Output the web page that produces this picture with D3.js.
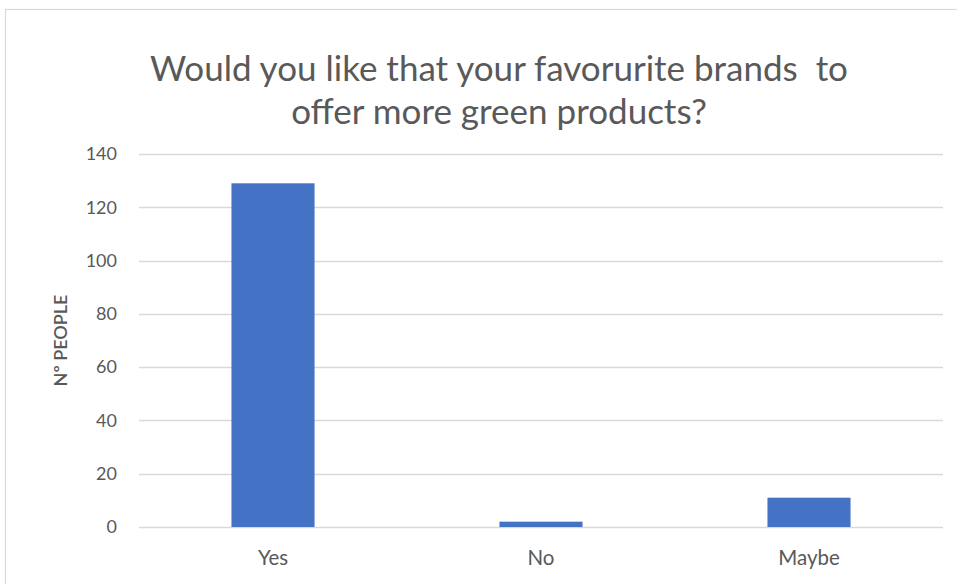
<!DOCTYPE html>
<html>
<head>
<meta charset="utf-8">
<script src="https://cdn.jsdelivr.net/npm/d3@7"></script>
<style>
  html, body { margin: 0; padding: 0; background: #fff; }
  svg { display: block; }
  text { font-family: Lato, "Open Sans", sans-serif; fill: #595959; }
</style>
</head>
<body>
<svg id="chart" width="957" height="584"></svg>
<script>
// Survey answers
const categories = ["Yes", "No", "Maybe"];
const counts = [129, 2, 11];
const yTicks = [0, 20, 40, 60, 80, 100, 120, 140];
const titleLines = ["Would you like that your favorurite brands  to", "offer more green products?"];
const yAxisTitle = "Nº PEOPLE";

const svg = d3.select("#chart");
const W = 957, H = 584;
const m = { left: 139, right: 14, top: 154, bottom: 57 };

// Chart area frame
svg.append("rect")
  .attr("x", 5.5).attr("y", 9.5)
  .attr("width", W + 10).attr("height", H + 10)
  .attr("fill", "#fff").attr("stroke", "#d9d9d9").attr("stroke-width", 1.2);

const x = d3.scaleBand().domain(categories).range([m.left, W - m.right]).paddingInner(0.69).paddingOuter(0.345);
const y = d3.scaleLinear().domain([0, 140]).range([H - m.bottom, m.top]);

// Gridlines
svg.append("g")
  .selectAll("line").data(yTicks).join("line")
  .attr("x1", m.left).attr("x2", W - m.right)
  .attr("y1", d => Math.round(y(d)) + 0.5).attr("y2", d => Math.round(y(d)) + 0.5)
  .attr("stroke", "#d9d9d9").attr("stroke-width", 1.5);

// Y axis labels
const yAxis = d3.axisLeft(y).tickValues(yTicks).tickSize(0).tickPadding(0);
const gy = svg.append("g").attr("transform", `translate(${m.left - 22},0)`).call(yAxis);
gy.select(".domain").remove();
gy.selectAll("text").attr("font-size", 18).attr("fill", "#595959")
  .style("font-family", "Lato, 'Open Sans', sans-serif");

// Bars
svg.append("g")
  .selectAll("rect").data(categories).join("rect")
  .attr("x", d => x(d))
  .attr("width", x.bandwidth())
  .attr("y", (d, i) => y(counts[i]))
  .attr("height", (d, i) => y(0) - y(counts[i]))
  .attr("fill", "#4472c4");

// Category axis
const xAxis = d3.axisBottom(x).tickSize(0).tickPadding(0);
const gx = svg.append("g").attr("transform", `translate(0,${y(0) + 38})`).call(xAxis);
gx.select(".domain").remove();
gx.selectAll("text").attr("font-size", 20.5).attr("fill", "#595959").attr("dy", 0)
  .style("font-family", "Lato, 'Open Sans', sans-serif");

// Y axis title
svg.append("text")
  .attr("transform", `translate(67,${(y(0) + y(140)) / 2}) rotate(-90)`)
  .attr("text-anchor", "middle")
  .attr("font-size", 18)
  .attr("font-weight", 600)
  .text(yAxisTitle);

// Title
svg.append("g").selectAll("text").data(titleLines).join("text")
  .attr("x", 499).attr("y", (d, i) => 81 + i * 43)
  .attr("text-anchor", "middle")
  .attr("font-size", 35)
  .style("white-space", "pre")
  .attr("xml:space", "preserve")
  .text(d => d);
</script>
</body>
</html>
